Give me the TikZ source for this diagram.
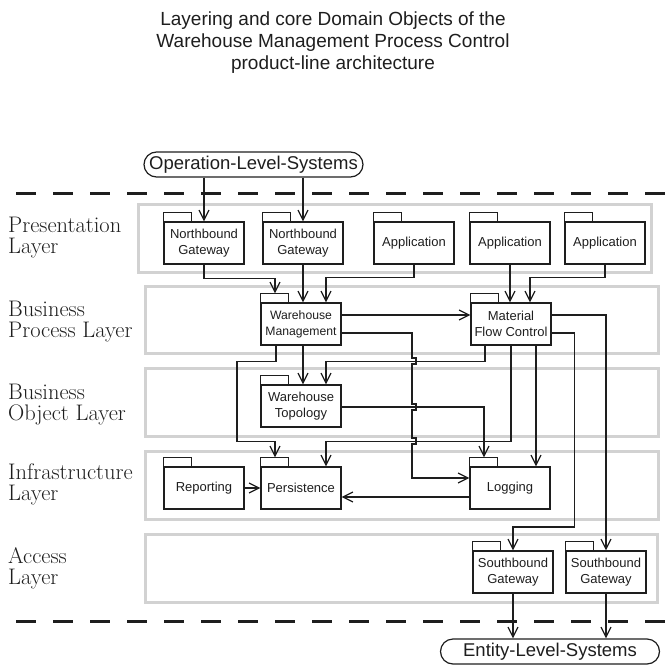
\documentclass[tikz,border=0pt]{standalone}
\usepackage{fontspec}
\setsansfont{Liberation Sans}
\usetikzlibrary{arrows.meta}
\definecolor{ink}{HTML}{1E1E1E}
\definecolor{layergray}{HTML}{D2D2D2}

\begin{document}
\begin{tikzpicture}[x=1pt,y=-1pt,
  every node/.style={text=ink},
  layerbox/.style={draw=layergray, line width=3pt},
  layerlabel/.style={anchor=base west, align=left, inner sep=0pt,
    font=\rmfamily\fontsize{22.5}{21}\selectfont},
  pkg/.style={draw=ink, line width=1.2pt, minimum width=80pt, minimum height=42pt,
    inner sep=1pt, align=center, font=\sffamily\fontsize{13}{16}\selectfont},
  tab/.style={draw=ink, line width=1.2pt},
  system/.style={draw=ink, line width=1.2pt, rounded corners=12.5pt,
    minimum width=219pt, minimum height=25pt, inner sep=0pt,
    font=\sffamily\fontsize{18.5}{20}\selectfont},
  dep/.style={draw=ink, line width=1.2pt, -{Straight Barb[length=10pt,width=10pt]}},
  boundary/.style={draw=ink, line width=3pt, dash pattern=on 20pt off 17pt},
]
\useasboundingbox (0,0) rectangle (666,667);

% title (base anchor sits on the last line)
\node[font=\sffamily\fontsize{19}{22}\selectfont, align=center, anchor=base]
  (title) at (333,69) {Layering and core Domain Objects of the\\
  Warehouse Management Process Control\\product-line architecture};

% layers
\draw[layerbox] (138,204) rectangle (651,272);
\draw[layerbox] (145,286) rectangle (658,353);
\draw[layerbox] (145,368) rectangle (658,436);
\draw[layerbox] (145,451) rectangle (658,519);
\draw[layerbox] (145,534) rectangle (657,602);

\node[layerlabel] (lpres)  at (8,253) {Presentation\\Layer};
\node[layerlabel] (lproc)  at (8,337) {Business\\Process Layer};
\node[layerlabel] (lobj)   at (8,420) {Business\\Object Layer};
\node[layerlabel] (linfra) at (8,500) {Infrastructure\\Layer};
\node[layerlabel] (lacc)   at (8,584) {Access\\Layer};

% system boundaries
\draw[boundary] (16,193) -- (666,193);
\draw[boundary] (16,621) -- (666,621);

% external systems
\node[system] (OLS) at (253.5,164.5) {Operation-Level-Systems};
\node[system] (ELS) at (550,651.5) {Entity-Level-Systems};

% packages
\node[pkg] (NG1)  at (204,243) {Northbound\\Gateway};
\node[pkg] (NG2)  at (303,243) {Northbound\\Gateway};
\node[pkg] (App1) at (414,243) {Application};
\node[pkg] (App2) at (510,243) {Application};
\node[pkg] (App3) at (605,243) {Application};
\node[pkg, font=\sffamily\fontsize{12.2}{16}\selectfont] (WM) at (301,324) {Warehouse\\Management};
\node[pkg] (MFC)  at (511,324) {Material\\Flow Control};
\node[pkg] (WT)   at (301,406) {Warehouse\\Topology};
\node[pkg] (Rep)  at (204,488) {Reporting};
\node[pkg] (Pers) at (301,488) {Persistence};
\node[pkg] (Log)  at (510,488) {Logging};
\node[pkg] (SG1)  at (513,572) {Southbound\\Gateway};
\node[pkg] (SG2)  at (606,572) {Southbound\\Gateway};

\foreach \p in {NG1,NG2,App1,App2,App3,WM,MFC,WT,Rep,Pers,Log,SG1,SG2}
  \draw[tab] (\p.north west) rectangle ++(28,-9);

% dependencies
\draw[dep] (NG1.north |- OLS.south) -- (NG1.north);
\draw[dep] (NG2.north |- OLS.south) -- (NG2.north);
\draw[dep] (NG1.south) -- ++(0,14) -| ([xshift=-26pt,yshift=9pt]WM.north);
\draw[dep] (NG2.south) -- (NG2.south |- WM.north);
\draw[dep] (App1.south) -- ++(0,13) -| ([xshift=25pt]WM.north);
\draw[dep] (App2.south) -- (App2.south |- MFC.north);
\draw[dep] (App3.south) -- ++(0,13) -| ([xshift=19pt]MFC.north);
\draw[dep] ([yshift=9pt]WM.east) -- ([yshift=9pt]MFC.west);
\draw[dep] ([yshift=-9pt]WM.east) -- (412,333) -- (412,358) -- (416,358) -- (416,364)
  -- (412,364) -- (412,404) -- (416,404) -- (416,410) -- (412,410) -- (412,438)
  -- (416,438) -- (416,444) -- (412,444) |- ([yshift=10pt]Log.west);
\draw[dep] ([xshift=-26pt]MFC.south) -- ++(0,16) -| ([xshift=25pt]WT.north);
\draw[dep] ([xshift=2pt]WM.south) -- ([xshift=2pt]WT.north);
\draw[dep] ([xshift=-25pt]WM.south) -- ++(0,16) -- ++(-39,0) -- ++(0,80)
  -| ([xshift=-26pt,yshift=9pt]Pers.north);
\draw[dep] ([yshift=-1pt]WT.east) -| ([xshift=-26pt,yshift=9pt]Log.north);
\draw[dep] (MFC.south) -- ++(0,96) -| ([xshift=25pt]Pers.north);
\draw[dep] ([xshift=25pt]MFC.south) -- ([xshift=25pt]MFC.south |- Log.north);
\draw[dep] ([yshift=-9pt]MFC.east) -- ++(23,0) -- ++(0,194) -| (SG1.north);
\draw[dep] ([yshift=9pt]MFC.east) -| (SG2.north);
\draw[dep] ([yshift=-9pt]Log.west) -- ([yshift=-9pt]Log.west -| Pers.east);
\draw[dep] (Rep.east) -- (Pers.west);
\draw[dep] (SG1.south) -- (SG1.south |- ELS.north);
\draw[dep] (SG2.south) -- (SG2.south |- ELS.north);
\end{tikzpicture}
\end{document}
